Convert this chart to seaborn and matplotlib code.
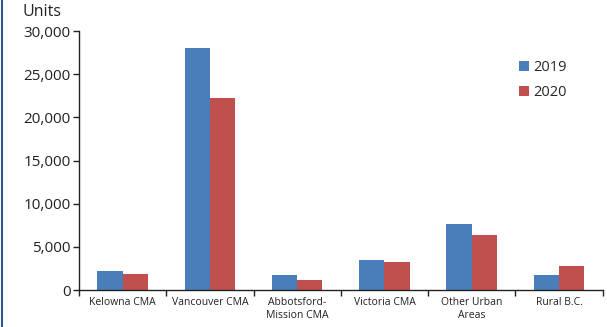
import matplotlib
matplotlib.use("Agg")
import matplotlib.pyplot as plt
import seaborn as sns
import pandas as pd
from matplotlib.ticker import FuncFormatter, FixedLocator
from matplotlib.lines import Line2D

categories = ["Kelowna CMA", "Vancouver CMA", "Abbotsford-\nMission CMA",
              "Victoria CMA", "Other Urban\nAreas", "Rural B.C."]
units_2019 = [2200, 28050, 1700, 3470, 7600, 1700]
units_2020 = [1820, 22300, 1120, 3200, 6370, 2820]

df = pd.DataFrame({
    "area": categories * 2,
    "year": ["2019"] * 6 + ["2020"] * 6,
    "units": units_2019 + units_2020,
})

sns.set_style("white")
plt.rcParams["font.family"] = ["Open Sans", "DejaVu Sans"]

fig = plt.figure(figsize=(6.07, 3.27), dpi=100)
ax = fig.add_axes([0.130, 0.113, 0.863, 0.792])

sns.barplot(data=df, x="area", y="units", hue="year",
            palette=["#4A7EBB", "#C0504D"], width=0.58,
            saturation=1, linewidth=0, ax=ax, legend=True)

ax.set_ylim(0, 30000)
ax.set_xlim(-0.5, 5.5)
ax.set_yticks(range(0, 30001, 5000))
ax.yaxis.set_major_formatter(FuncFormatter(lambda v, p: f"{int(v):,}"))
ax.tick_params(axis="y", labelsize=11, length=4, width=1, direction="out",
               left=True, colors="#222222", pad=2)
ax.tick_params(axis="x", labelsize=7.5, length=0, pad=5, colors="#222222")
ax.xaxis.set_minor_locator(FixedLocator([i - 0.5 for i in range(7)]))
ax.tick_params(axis="x", which="minor", length=4, width=1, bottom=True,
               direction="out", color="#222222")
ax.set_xlabel("")
ax.set_ylabel("")
for s in ["top", "right"]:
    ax.spines[s].set_visible(False)
for s in ["left", "bottom"]:
    ax.spines[s].set_color("#222222")
    ax.spines[s].set_linewidth(1)

leg = ax.legend(loc="upper left", bbox_to_anchor=(0.815, 0.94), frameon=False,
                fontsize=10.5, handlelength=0.7, handleheight=0.7,
                handletextpad=0.3, labelspacing=0.7)

fig.text(0.069, 0.962, "Units", fontsize=11.5, ha="center", va="center",
         color="#222222")
fig.add_artist(Line2D([0.003, 0.003], [0, 1], transform=fig.transFigure,
                      color="#2F5597", linewidth=1.5))

fig.savefig("out.png", dpi=100)
